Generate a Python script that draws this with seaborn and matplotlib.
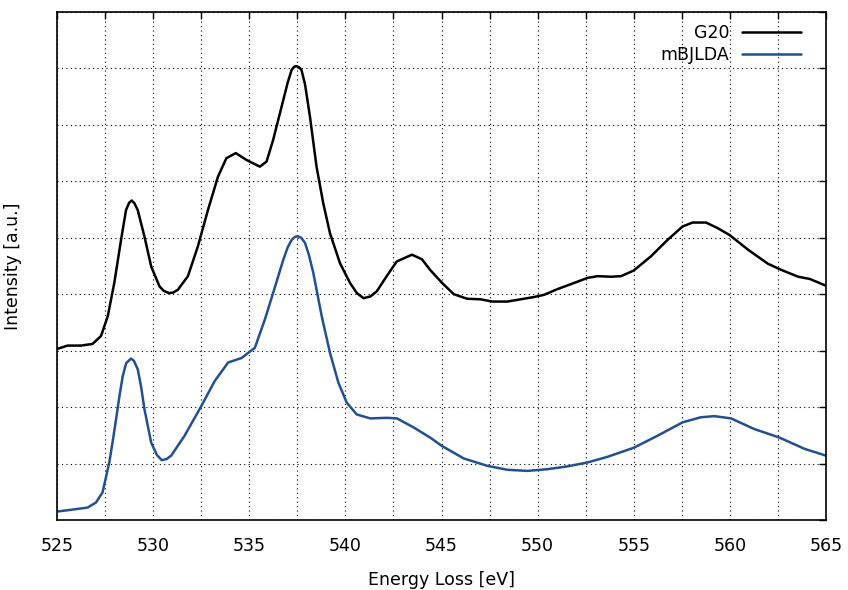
import numpy as np
import pandas as pd
import matplotlib
matplotlib.use("Agg")
import matplotlib.pyplot as plt
import seaborn as sns

# G20 spectrum
g20_energy = [525.0, 525.55, 526.25, 526.85, 527.29, 527.64, 527.98, 528.33, 528.59, 528.75,
              528.89, 529.03, 529.2, 529.55, 529.9, 530.33, 530.55, 530.82, 531.05, 531.29,
              531.81, 532.33, 532.85, 533.37, 533.81, 534.3, 534.85, 535.55, 535.9, 536.24,
              536.77, 537.0, 537.2, 537.33, 537.46, 537.6, 537.72, 537.9, 538.0, 538.16,
              538.5, 538.85, 539.2, 539.72, 540.24, 540.6, 540.94, 541.3, 541.63, 542.15,
              542.67, 543.46, 543.98, 544.41, 545.03, 545.64, 546.33, 547.03, 547.64, 548.42,
              549.12, 549.81, 550.34, 551.03, 551.9, 552.6, 553.12, 553.82, 554.34, 555.0,
              555.89, 556.75, 557.54, 558.06, 558.76, 559.37, 559.98, 560.94, 561.98, 562.68,
              563.55, 564.16, 565.0]
g20_intensity = [3.03, 3.09, 3.09, 3.12, 3.26, 3.61, 4.2, 4.96, 5.49, 5.62,
                 5.66, 5.61, 5.49, 5.02, 4.49, 4.14, 4.06, 4.02, 4.03, 4.08,
                 4.32, 4.85, 5.49, 6.08, 6.41, 6.5, 6.38, 6.26, 6.35, 6.73,
                 7.44, 7.75, 7.97, 8.03, 8.04, 8.02, 7.97, 7.72, 7.5, 7.14,
                 6.26, 5.61, 5.08, 4.55, 4.2, 4.02, 3.93, 3.96, 4.05, 4.32,
                 4.58, 4.7, 4.62, 4.43, 4.2, 4.0, 3.92, 3.91, 3.87, 3.87,
                 3.91, 3.95, 3.99, 4.09, 4.2, 4.29, 4.32, 4.31, 4.32, 4.42,
                 4.67, 4.96, 5.2, 5.27, 5.27, 5.17, 5.05, 4.79, 4.54, 4.43,
                 4.31, 4.27, 4.15]

# mBJLDA spectrum
mbj_energy = [525.0, 525.72, 526.59, 527.03, 527.37, 527.72, 527.9, 528.07, 528.25, 528.42,
              528.6, 528.85, 529.0, 529.2, 529.38, 529.55, 529.9, 530.2, 530.45, 530.7,
              530.94, 531.63, 532.51, 533.2, 533.9, 534.6, 535.29, 535.81, 536.24, 536.77,
              537.0, 537.2, 537.35, 537.51, 537.7, 537.9, 538.1, 538.33, 538.77, 539.2,
              539.64, 540.07, 540.59, 541.29, 542.16, 542.68, 543.55, 544.41, 545.03, 546.16,
              547.38, 548.42, 549.47, 550.51, 551.55, 552.6, 553.64, 555.0, 556.22, 557.54,
              558.49, 559.19, 560.06, 561.28, 562.58, 563.89, 565.0]
mbj_intensity = [0.15, 0.18, 0.22, 0.31, 0.49, 1.02, 1.4, 1.78, 2.2, 2.55,
                 2.78, 2.86, 2.82, 2.67, 2.35, 1.96, 1.37, 1.15, 1.06, 1.08,
                 1.14, 1.49, 2.02, 2.46, 2.79, 2.87, 3.05, 3.55, 4.02, 4.61,
                 4.83, 4.96, 5.01, 5.03, 5.0, 4.91, 4.7, 4.38, 3.61, 2.96,
                 2.43, 2.08, 1.87, 1.80, 1.81, 1.80, 1.64, 1.46, 1.31, 1.09,
                 0.96, 0.89, 0.87, 0.9, 0.95, 1.02, 1.12, 1.28, 1.49, 1.73,
                 1.82, 1.84, 1.80, 1.61, 1.46, 1.26, 1.14]

series_names = ["G20", "mBJLDA"]
colors = ["black", "#23508f"]
x_ticks = [525, 527.5, 530, 532.5, 535, 537.5, 540, 542.5, 545, 547.5,
           550, 552.5, 555, 557.5, 560, 562.5, 565]
x_labels = ["525", "", "530", "", "535", "", "540", "", "545", "",
            "550", "", "555", "", "560", "", "565"]

df = pd.concat([
    pd.DataFrame({"energy": g20_energy, "intensity": g20_intensity, "model": series_names[0]}),
    pd.DataFrame({"energy": mbj_energy, "intensity": mbj_intensity, "model": series_names[1]}),
])

sns.set_style("white")
plt.rcParams["font.family"] = ["DejaVu Sans"]
plt.rcParams["text.color"] = "black"
plt.rcParams["axes.labelcolor"] = "black"
plt.rcParams["xtick.color"] = "black"
plt.rcParams["ytick.color"] = "black"

fig = plt.figure(figsize=(8.48, 5.9), dpi=100)
ax = fig.add_axes([57 / 848, 1 - 520 / 590, (826 - 57) / 848, (520 - 12) / 590])

sns.lineplot(data=df, x="energy", y="intensity", hue="model", hue_order=series_names,
             palette=colors, estimator=None, sort=False, linewidth=1.8, ax=ax)
for line in ax.get_lines():
    line.set_solid_joinstyle("round")

ax.set_xlim(525, 565)
ax.set_ylim(0, 9)
ax.set_xticks(x_ticks)
ax.set_xticklabels(x_labels)
ax.set_xticks(np.arange(525, 565.1, 0.5), minor=True)
ax.set_yticks(np.arange(0, 9.1, 1))
ax.set_yticklabels([])

ax.grid(True, which="major", color="black", linestyle=(0, (1, 3)), linewidth=0.8)
ax.tick_params(which="major", direction="in", top=True, right=True, length=5, width=1)
ax.tick_params(axis="x", which="major", labelsize=12.5, pad=12)
ax.tick_params(which="minor", direction="in", top=False, length=1.5, width=0.5)
for s in ax.spines.values():
    s.set_color("black")
    s.set_linewidth(1.2)

ax.set_xlabel("Energy Loss [eV]", fontsize=12.5, labelpad=12)
ax.set_ylabel("Intensity [a.u.]", fontsize=12.5)
ax.yaxis.set_label_coords(-0.046, 0.5)

handles, labels = ax.get_legend_handles_labels()
ax.legend(handles, labels, loc="upper right", frameon=False, markerfirst=False,
          fontsize=12.5, handlelength=3.4, borderaxespad=0.3, labelspacing=0.25,
          handletextpad=0.7, bbox_to_anchor=(0.983, 1.0))

fig.savefig("out.png", dpi=100)
